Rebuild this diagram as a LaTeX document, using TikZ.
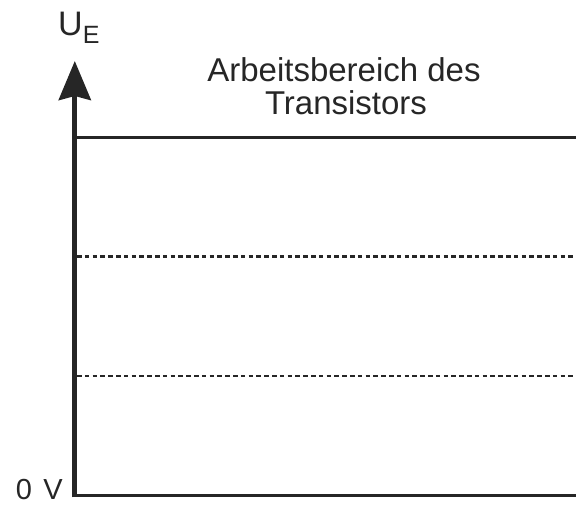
\documentclass[tikz,border=0pt]{standalone}
\usepackage{fontspec}
\setmainfont{Liberation Sans}
\usetikzlibrary{arrows.meta}
\tikzset{
  txt/.style={inner sep=0pt, anchor=base, text=black!85},
  solidline/.style={line width=3.2pt, draw=black!85},
  dashline/.style={line width=2.9pt, draw=black!85, dash pattern=on 4.6pt off 3.2pt},
  axisline/.style={line width=5pt, draw=black!85, -{Stealth[length=39pt,width=32pt,inset=4pt]}}
}
\begin{document}
\begin{tikzpicture}[x=1pt,y=-1pt]
\useasboundingbox (0,0) rectangle (576,505);
\coordinate (o) at (74.8,497.3);
\coordinate (ax) at (74.8,61);
\coordinate (bl) at (72.3,495.7);
\coordinate (br) at (576,495.7);
\coordinate (tl) at (77,137.5);
\coordinate (tr) at (576,137.5);
\coordinate (d1l) at (77,256.5);
\coordinate (d1r) at (576,256.5);
\coordinate (d2l) at (77,376);
\coordinate (d2r) at (576,376);
\draw[solidline] (bl) -- (br);
\draw[solidline] (tl) -- (tr);
\draw[dashline] (d1l) -- (d1r);
\draw[dashline] (d2l) -- (d2r);
\draw[axisline, line cap=butt] (o) -- (ax);
\node[txt, font=\fontsize{33}{36}\selectfont] (t1) at (344,82) {Arbeitsbereich des};
\node[txt, font=\fontsize{33}{36}\selectfont] (t2) at (346,115) {Transistors};
\node[txt, anchor=base west, font=\fontsize{34}{36}\selectfont] (ue) at (58,36) {U\raisebox{-0.23em}{\fontsize{25}{27}\selectfont E}};
\node[txt, anchor=base east, font=\fontsize{29}{30}\selectfont] (zero) at (63,499.5) {0\hspace{0.12em} V};
\end{tikzpicture}
\end{document}
